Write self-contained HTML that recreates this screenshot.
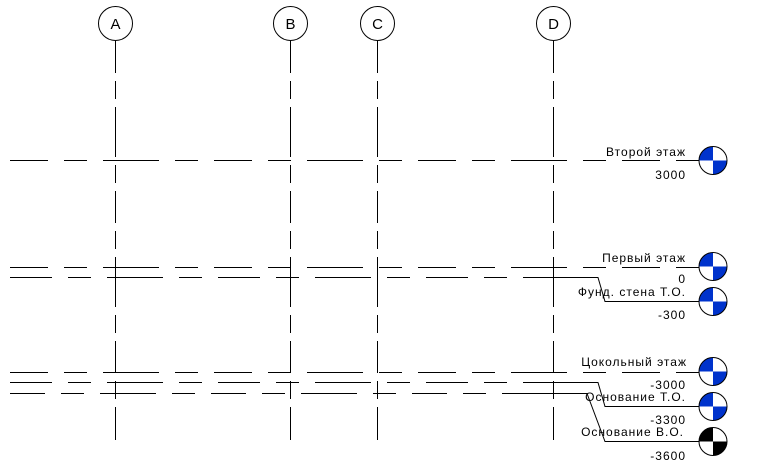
<!DOCTYPE html>
<html><head><meta charset="utf-8"><style>
html,body{margin:0;padding:0;background:#fff;}
svg{display:block;}
text{font-family:"Liberation Sans",sans-serif;font-size:12px;fill:#000;letter-spacing:1px;}
</style></head><body>
<svg width="759" height="469" viewBox="0 0 759 469" xmlns="http://www.w3.org/2000/svg">
<g stroke="#000" stroke-width="1" fill="none">
<circle cx="115.5" cy="23.5" r="17"/>
<circle cx="290.5" cy="23.5" r="17"/>
<circle cx="377.5" cy="23.5" r="17"/>
<circle cx="553.5" cy="23.5" r="17"/>
<g stroke-dasharray="32 8 18 8 50 8 18 8">
<line x1="115.5" y1="41" x2="115.5" y2="440"/>
<line x1="290.5" y1="41" x2="290.5" y2="440"/>
<line x1="377.5" y1="41" x2="377.5" y2="440"/>
<line x1="553.5" y1="41" x2="553.5" y2="440"/>
</g>
<g stroke-dasharray="38 16 23 16 56 16 23 16">
<line x1="10" y1="160.5" x2="699" y2="160.5"/>
<line x1="10" y1="267.5" x2="699" y2="267.5"/>
<line x1="10" y1="372.5" x2="699" y2="372.5"/>
</g>
<g stroke-dasharray="42 16 23 16 56 16 23 16">
<line x1="10" y1="277.5" x2="553" y2="277.5"/>
<line x1="10" y1="382.5" x2="553" y2="382.5"/>
</g>
<g stroke-dasharray="35 16 23 16 56 16 23 16">
<line x1="10" y1="393.5" x2="553" y2="393.5"/>
</g>
<polyline points="553,277.5 598,277.5 605,301.5 699,301.5"/>
<polyline points="553,382.5 598,382.5 605,406.5 699,406.5"/>
<polyline points="553,393.5 587,393.5 605,441.5 699,441.5"/>
</g>
<text x="115.5" y="29" text-anchor="middle" style="font-size:15px;letter-spacing:0">A</text>
<text x="290.5" y="29" text-anchor="middle" style="font-size:15px;letter-spacing:0">B</text>
<text x="377.5" y="29" text-anchor="middle" style="font-size:15px;letter-spacing:0">C</text>
<text x="553.5" y="29" text-anchor="middle" style="font-size:15px;letter-spacing:0">D</text>
<text x="686" y="156" text-anchor="end">Второй этаж</text>
<text x="686" y="179" text-anchor="end">3000</text>
<text x="686" y="262" text-anchor="end">Первый этаж</text>
<text x="686" y="283" text-anchor="end">0</text>
<text x="686" y="296" text-anchor="end">Фунд. стена Т.О.</text>
<text x="686" y="319" text-anchor="end">-300</text>
<text x="687" y="366" text-anchor="end">Цокольный этаж</text>
<text x="686" y="389" text-anchor="end">-3000</text>
<text x="686" y="401" text-anchor="end">Основание Т.О.</text>
<text x="686" y="424" text-anchor="end">-3300</text>
<text x="684" y="436" text-anchor="end">Основание В.О.</text>
<text x="686" y="460" text-anchor="end">-3600</text>
<defs>
<g id="lh">
<path d="M0,0 L-14,0 A14,14 0 0 1 0,-14 Z" fill="#0033cc"/>
<path d="M0,0 L14,0 A14,14 0 0 1 0,14 Z" fill="#0033cc"/>
<circle r="14" fill="none" stroke="#000"/>
</g>
<g id="lk">
<path d="M0,0 L-14,0 A14,14 0 0 1 0,-14 Z" fill="#000"/>
<path d="M0,0 L14,0 A14,14 0 0 1 0,14 Z" fill="#000"/>
<circle r="14" fill="none" stroke="#000"/>
</g>
</defs>
<use href="#lh" x="713" y="160.5"/>
<use href="#lh" x="713" y="266.5"/>
<use href="#lh" x="713" y="301.5"/>
<use href="#lh" x="713" y="371.5"/>
<use href="#lh" x="713" y="406.5"/>
<use href="#lk" x="713" y="441.5"/>
</svg>
</body></html>
